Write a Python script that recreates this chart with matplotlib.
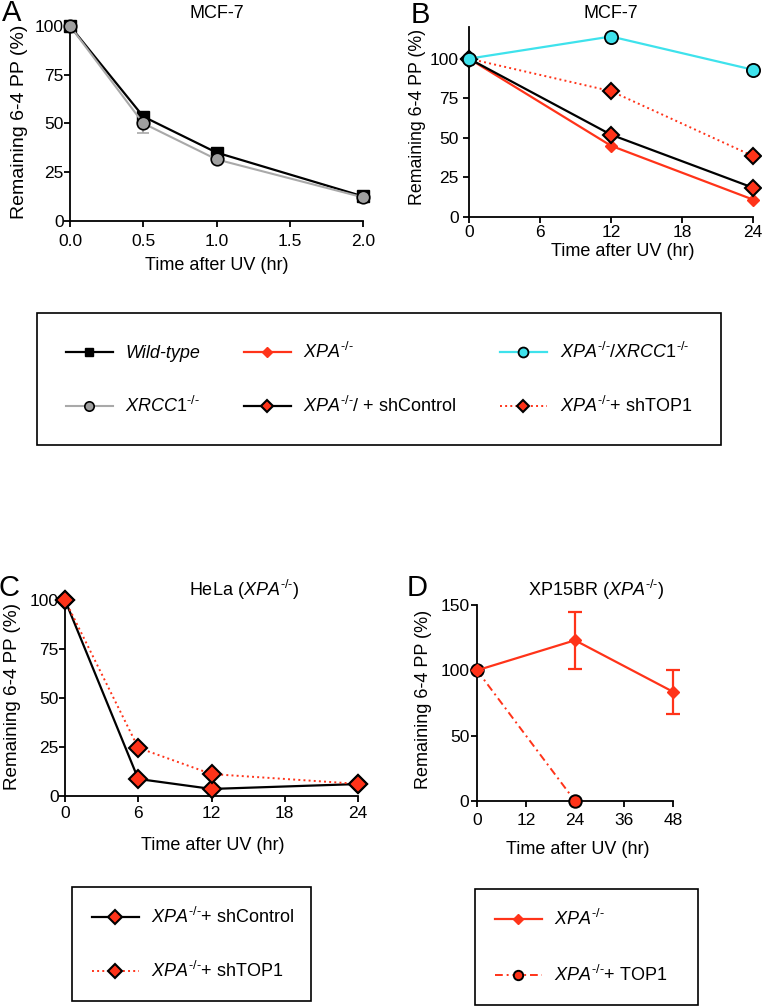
import numpy as np
import matplotlib
matplotlib.use("Agg")
import matplotlib.pyplot as plt

plt.rcParams['font.family'] = ['Liberation Sans', 'DejaVu Sans']
plt.rcParams['mathtext.fontset'] = 'custom'
plt.rcParams['mathtext.rm'] = 'Liberation Sans'
plt.rcParams['mathtext.it'] = 'Liberation Sans:italic'
plt.rcParams['mathtext.bf'] = 'Liberation Sans:bold'

# ---- data ----
a_time = [0, 0.5, 1.0, 2.0]
a_wt = [100, 53.5, 35, 12.5]
a_xrcc1 = [100, 50, 31.5, 12]
a_xrcc1_err = [0, 5, 1.5, 1]

b_time = [0, 12, 24]
b_xpa = [100, 45, 11]
b_xpa_xrcc1 = [100, 114, 93]
b_shctrl = [100, 52, 18.5]
b_shtop1 = [100, 79.5, 38.5]

c_time = [0, 6, 12, 24]
c_shctrl = [100, 8.7, 3.6, 6.1]
c_shtop1 = [100, 24.6, 11.2, 6.2]

d_time = [0, 24, 48]
d_xpa = [100, 123, 83.6]
d_xpa_err = [0, 22, 17]
d_top1_time = [0, 24]
d_top1 = [100, 0]

RED = '#ff3319'
CYAN = '#3ee2ec'
GRAY = '#a9a9a9'

W, H = 762, 1006
fig = plt.figure(figsize=(W / 100, H / 100), dpi=100)


def box(l, t, r, b):
    return [l / W, 1 - b / H, (r - l) / W, (b - t) / H]


def ftext(x, y, s, **kw):
    kw.setdefault('ha', 'center')
    kw.setdefault('va', 'center')
    fig.text(x / W, 1 - y / H, s, **kw)


def style(ax, xpad, ypad):
    for s in ['top', 'right']:
        ax.spines[s].set_visible(False)
    for s in ['left', 'bottom']:
        ax.spines[s].set_linewidth(1.3)
    ax.tick_params(direction='out', length=4.5, width=1.3, labelsize=12.5)
    ax.tick_params(axis='x', pad=xpad)
    ax.tick_params(axis='y', pad=ypad)


mk = dict(clip_on=False, zorder=5)
xpa_sup = r'$\mathit{XPA}^{\text{-/-}}$'

# ---- A ----
axA = fig.add_axes(box(70, 26, 363, 220.7))
ebA = axA.errorbar(a_time, a_xrcc1, yerr=a_xrcc1_err, color=GRAY, lw=1.5, capsize=4,
                   marker='o', ms=9, mfc='#a0a0a0', mec='black', mew=1.2, **mk)
la_wt, = axA.plot(a_time, a_wt, color='black', lw=1.6, marker='s', ms=8.5, **mk)
axA.set_xlim(0, 2)
axA.set_ylim(0, 100)
axA.set_xticks([0, 0.5, 1.0, 1.5, 2.0])
axA.set_xticklabels(['0.0', '0.5', '1.0', '1.5', '2.0'])
axA.set_yticks([0, 25, 50, 75, 100])
style(axA, 5, 0)

# ---- B ----
axB = fig.add_axes(box(469, 27, 753, 217))
lb_xpa, = axB.plot(b_time, b_xpa, color=RED, lw=1.6, marker='D', ms=6.5,
                   mfc=RED, mec=RED, **mk)
lb_shc, = axB.plot(b_time, b_shctrl, color='black', lw=1.6, marker='D', ms=8,
                   mfc=RED, mec='black', mew=1.5, **mk)
lb_sht, = axB.plot(b_time, b_shtop1, color=RED, lw=1.4, ls=':', marker='D', ms=8,
                   mfc=RED, mec='black', mew=1.5, **mk)
lb_cy, = axB.plot(b_time, b_xpa_xrcc1, color=CYAN, lw=1.6, marker='o', ms=9.5,
                  mfc=CYAN, mec='black', mew=1.3, **mk)
axB.set_xlim(0, 24)
axB.set_ylim(0, 120)
axB.set_xticks([0, 6, 12, 18, 24])
axB.set_yticks([0, 25, 50, 75, 100])
style(axB, 1, 3)

# ---- C ----
axC = fig.add_axes(box(65, 600, 358, 796))
lc_shc, = axC.plot(c_time, c_shctrl, color='black', lw=1.6, marker='D', ms=9,
                   mfc=RED, mec='black', mew=1.5, **mk)
lc_sht, = axC.plot(c_time, c_shtop1, color=RED, lw=1.4, ls=':', marker='D', ms=9,
                   mfc=RED, mec='black', mew=1.5, **mk)
axC.set_xlim(0, 24)
axC.set_ylim(0, 100)
axC.set_xticks([0, 6, 12, 18, 24])
axC.set_yticks([0, 25, 50, 75, 100])
style(axC, 3, 0)

# ---- D ----
axD = fig.add_axes(box(477, 605, 673, 801))
ebD = axD.errorbar(d_time, d_xpa, yerr=d_xpa_err, color=RED, lw=1.6, capsize=5,
                   capthick=1.6, elinewidth=1.6, marker='D', ms=6.5, mfc=RED,
                   mec=RED, **mk)
ld_top, = axD.plot(d_top1_time, d_top1, color=RED, lw=1.4, dashes=(4, 2, 1, 2),
                   marker='o', ms=9, mfc=RED, mec='black', mew=1.4, **mk)
axD.set_xlim(0, 48)
axD.set_ylim(0, 150)
axD.set_xticks([0, 12, 24, 36, 48])
axD.set_yticks([0, 50, 100, 150])
style(axD, 4, 1)

# ---- titles, labels, panel letters ----
ylab = 'Remaining 6-4 PP (%)'
xlab = 'Time after UV (hr)'
ftext(217, 13, 'MCF-7', fontsize=13)
ftext(611, 13, 'MCF-7', fontsize=13)
ftext(244, 590, r'HeLa $\mathit{(XPA}^{\text{-/-}}\mathit{)}$', fontsize=13)
ftext(596, 590, r'XP15BR ($\mathit{XPA}^{\text{-/-}}$)', fontsize=13)

ftext(20, 122, ylab, fontsize=14, rotation=90)
ftext(418, 117, ylab, fontsize=12.8, rotation=90)
ftext(13, 696, ylab, fontsize=13.6, rotation=90)
ftext(423, 699, ylab, fontsize=13, rotation=90)

ftext(217, 266, xlab, fontsize=13)
ftext(623, 251, xlab, fontsize=13)
ftext(213, 845, xlab, fontsize=13)
ftext(578, 849, xlab, fontsize=13)

ftext(12, 13, 'A', fontsize=21)
ftext(420, 15, 'B', fontsize=21)
ftext(9, 588, 'C', fontsize=21)
ftext(417, 588, 'D', fontsize=21)

# ---- legends ----
h1 = [la_wt, ebA.lines[0], lb_xpa, lb_shc, lb_cy, lb_sht]
l1 = ['Wild-type', r'$\mathit{XRCC1}^{\text{-/-}}$', xpa_sup,
      r'$\mathit{XPA}^{\text{-/-}}$/ + shControl',
      r'$\mathit{XPA}^{\text{-/-}}\mathit{/XRCC1}^{\text{-/-}}$',
      r'$\mathit{XPA}^{\text{-/-}}$+ shTOP1']
common = dict(frameon=True, fancybox=False, edgecolor='black', framealpha=1,
              fontsize=13, numpoints=1, markerscale=0.75, borderaxespad=0,
              handlelength=2.6, handletextpad=0.7, loc='upper left')
leg1 = fig.legend(h1, l1, ncol=3, bbox_to_anchor=(37 / W, 1 - 313 / H),
                  borderpad=1.6, labelspacing=1.9, columnspacing=2.4, **common)
leg1.get_texts()[0].set_style('italic')

leg2 = fig.legend([lc_shc, lc_sht],
                  [r'$\mathit{XPA}^{\text{-/-}}$+ shControl',
                   r'$\mathit{XPA}^{\text{-/-}}$+ shTOP1'],
                  bbox_to_anchor=(72 / W, 1 - 887 / H, 239 / W, 0), mode='expand',
                  borderpad=1.1, labelspacing=1.9, **common)
leg3 = fig.legend([ebD.lines[0], ld_top],
                  [xpa_sup, r'$\mathit{XPA}^{\text{-/-}}$+ TOP1'],
                  bbox_to_anchor=(475 / W, 1 - 889 / H, 223 / W, 0), mode='expand',
                  borderpad=1.1, labelspacing=2.0, **common)
for lg in (leg1, leg2, leg3):
    lg.get_frame().set_linewidth(1.2)

fig.savefig('out.png', dpi=100)
